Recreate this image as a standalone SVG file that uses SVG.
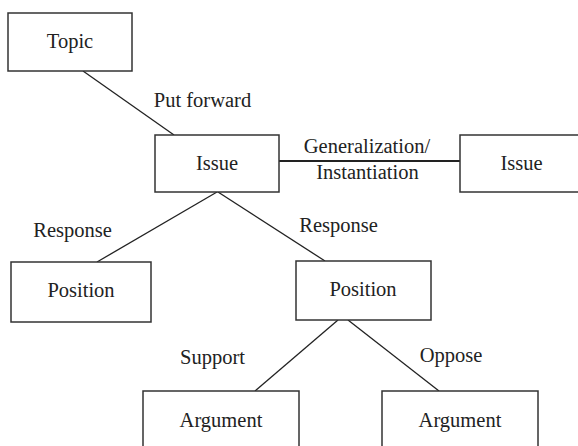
<svg xmlns="http://www.w3.org/2000/svg" width="578" height="446" viewBox="0 0 578 446">
<style>
.box{fill:#fff;stroke:#333;stroke-width:1.5}
.t{font-family:"Liberation Serif","Times New Roman",serif;font-size:20.5px;fill:#222;text-anchor:middle}
.c{stroke:#222;stroke-width:1.3;fill:none}
</style>
<rect width="578" height="446" fill="#fff"/>
<g id="connectors">
<line class="c" x1="83" y1="71" x2="174" y2="135"/>
<line class="c" x1="279" y1="161" x2="460" y2="161" style="stroke-width:2"/>
<line class="c" x1="217" y1="192" x2="97" y2="262"/>
<line class="c" x1="218" y1="192" x2="325" y2="261"/>
<line class="c" x1="338" y1="320" x2="255" y2="391"/>
<line class="c" x1="348" y1="320" x2="439" y2="391"/>
<text class="t" x="202.5" y="107">Put forward</text>
<text class="t" x="367" y="153">Generalization/</text>
<text class="t" x="367.5" y="179">Instantiation</text>
<text class="t" x="72.5" y="237">Response</text>
<text class="t" x="338.5" y="232">Response</text>
<text class="t" x="212.5" y="364">Support</text>
<text class="t" x="451" y="362">Oppose</text>
</g>
<g id="topic"><rect class="box" x="8" y="13" width="124" height="58"/><text class="t" x="70" y="48">Topic</text></g>
<g id="issue"><rect class="box" x="155" y="135" width="124" height="57"/><text class="t" x="217" y="170">Issue</text></g>
<g id="issue2"><rect class="box" x="460" y="135" width="124" height="57"/><text class="t" x="521.5" y="170">Issue</text></g>
<g id="position1"><rect class="box" x="11" y="262" width="140" height="60"/><text class="t" x="81" y="297">Position</text></g>
<g id="position2"><rect class="box" x="296" y="261" width="135" height="59"/><text class="t" x="363" y="296">Position</text></g>
<g id="argument1"><rect class="box" x="143" y="391" width="156" height="62"/><text class="t" x="221" y="427">Argument</text></g>
<g id="argument2"><rect class="box" x="382" y="391" width="156" height="62"/><text class="t" x="460" y="427">Argument</text></g>
</svg>
